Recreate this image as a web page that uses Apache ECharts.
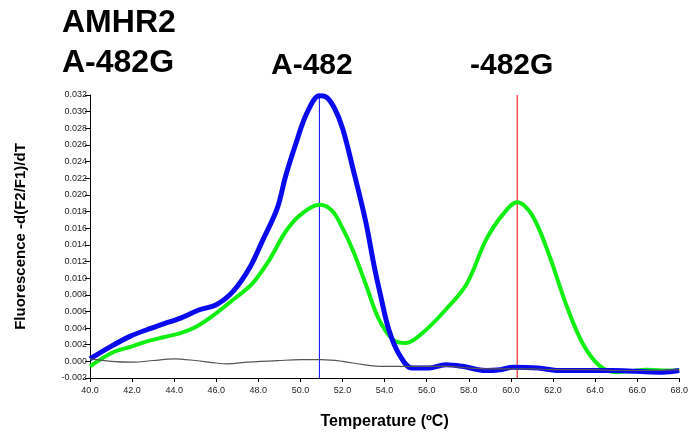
<!DOCTYPE html>
<html><head><meta charset="utf-8">
<script src="https://cdn.jsdelivr.net/npm/echarts@6/dist/echarts.min.js"></script>
<style>html,body{margin:0;padding:0;background:#fff}#c{width:691px;height:435px}</style>
</head><body><div id="c"></div>
<script>
// Temperature (°C) / value pairs
const blueT = [40.0,41.0,41.9,42.7,43.5,44.3,45.2,46.0,46.8,47.6,48.2,48.9,49.3,49.8,50.3,50.9,51.2,51.6,52.0,52.5,53.1,53.5,53.8,54.2,54.7,55.3,56.1,56.9,57.7,58.8,59.5,60.1,61.3,62.3,63.5,64.8,66.0,67.2,68.0];
const blueV = [0.0003,0.0018,0.0030,0.0038,0.0045,0.0052,0.0062,0.0068,0.0084,0.0113,0.0145,0.0184,0.0223,0.0263,0.0298,0.0319,0.0318,0.0305,0.0280,0.0231,0.0168,0.0115,0.0080,0.0038,0.0008,-0.0008,-0.0008,-0.0004,-0.0006,-0.0011,-0.0010,-0.0007,-0.0008,-0.0011,-0.0011,-0.0011,-0.0012,-0.0013,-0.0011];
const greenT = [40.0,41.1,42.0,42.7,43.5,44.3,45.0,45.8,46.8,47.7,48.5,49.3,50.0,50.9,51.5,52.0,52.5,53.1,53.7,54.4,55.0,55.8,56.9,57.9,58.8,59.6,60.3,61.0,61.8,62.6,63.4,64.2,65.0,65.7,66.4,67.2,68.0];
const greenV = [-0.0006,0.0011,0.0018,0.0024,0.0029,0.0034,0.0041,0.0054,0.0074,0.0093,0.0121,0.0156,0.0176,0.0188,0.0181,0.0160,0.0133,0.0093,0.0052,0.0026,0.0022,0.0034,0.0062,0.0093,0.0145,0.0176,0.0191,0.0176,0.0129,0.0070,0.0022,-0.0005,-0.0013,-0.0012,-0.0010,-0.0011,-0.0011];
const grayT = [40.0,41.0,42.0,43.0,44.0,45.0,46.0,46.5,47.5,49.0,50.0,51.0,52.0,53.0,54.0,55.0,56.0,57.0,58.0,59.0,60.0,61.0,62.0,63.0,64.0,65.0,66.0,67.0,68.0];
const grayV = [0.0003,0.0000,-0.0001,0.0001,0.0003,0.0001,-0.0002,-0.0003,-0.0001,0.0001,0.0002,0.0002,0.0000,-0.0004,-0.0006,-0.0006,-0.0006,-0.0006,-0.0008,-0.0009,-0.0009,-0.0009,-0.0010,-0.0010,-0.0010,-0.0011,-0.0011,-0.0011,-0.0010];
const peakBlueT = 50.9;
const peakRedT = 60.3;
const titles = ['AMHR2', 'A-482G', 'A-482', '-482G'];

const zip = (a, b) => a.map((x, i) => [x, b[i]]);
const chart = echarts.init(document.getElementById('c'));
const font = '"Liberation Sans", Arial, sans-serif';
chart.setOption({
  animation: false,
  grid: { left: 90, right: 11, top: 95, bottom: 53 },
  graphic: [
    { type: 'text', left: 62, top: 7, style: { text: titles[0], font: 'bold 32px ' + font, fill: '#000' } },
    { type: 'text', left: 62, top: 47, style: { text: titles[1], font: 'bold 32px ' + font, fill: '#000' } },
    { type: 'text', left: 271, top: 51, style: { text: titles[2], font: 'bold 30px ' + font, fill: '#000' } },
    { type: 'text', left: 470, top: 51, style: { text: titles[3], font: 'bold 30px ' + font, fill: '#000' } }
  ],
  xAxis: {
    type: 'value', min: 40, max: 68, interval: 2,
    name: 'Temperature (ºC)', nameLocation: 'middle', nameGap: 36,
    nameTextStyle: { fontFamily: font, fontWeight: 'bold', fontSize: 16, color: '#000' },
    axisLine: { onZero: false, lineStyle: { color: '#000', width: 1 } },
    axisTick: { length: 4, lineStyle: { color: '#000' } },
    axisLabel: { fontFamily: font, fontSize: 9, color: '#222', margin: 8, formatter: v => v.toFixed(1) },
    splitLine: { show: false }
  },
  yAxis: {
    type: 'value', min: -0.002, max: 0.032, interval: 0.002,
    name: 'Fluorescence -d(F2/F1)/dT', nameLocation: 'middle', nameGap: 62,
    nameTextStyle: { fontFamily: font, fontWeight: 'bold', fontSize: 15, color: '#000' },
    axisLine: { show: true, onZero: false, lineStyle: { color: '#000', width: 1 } },
    axisTick: { show: true, length: 5, lineStyle: { color: '#000' } },
    axisLabel: { fontFamily: font, fontSize: 9, color: '#222', margin: 3, formatter: v => v.toFixed(3) },
    splitLine: { show: false }
  },
  series: [
    { type: 'line', data: [[peakBlueT, -0.002], [peakBlueT, 0.032]], symbol: 'none', lineStyle: { color: '#0000ff', width: 1 }, z: 1 },
    { type: 'line', data: [[peakRedT, -0.002], [peakRedT, 0.032]], symbol: 'none', lineStyle: { color: '#ff0000', width: 1 }, z: 1 },
    { type: 'line', data: zip(greenT, greenV), symbol: 'none', smooth: 0.35, lineStyle: { color: '#11ee11', width: 4 }, z: 2 },
    { type: 'line', data: zip(blueT, blueV), symbol: 'none', smooth: 0.35, lineStyle: { color: '#0a0aee', width: 5 }, z: 3 },
    { type: 'line', data: zip(grayT, grayV), symbol: 'none', smooth: 0.35, lineStyle: { color: '#555555', width: 1.2 }, z: 4 }
  ]
});
</script></body></html>
